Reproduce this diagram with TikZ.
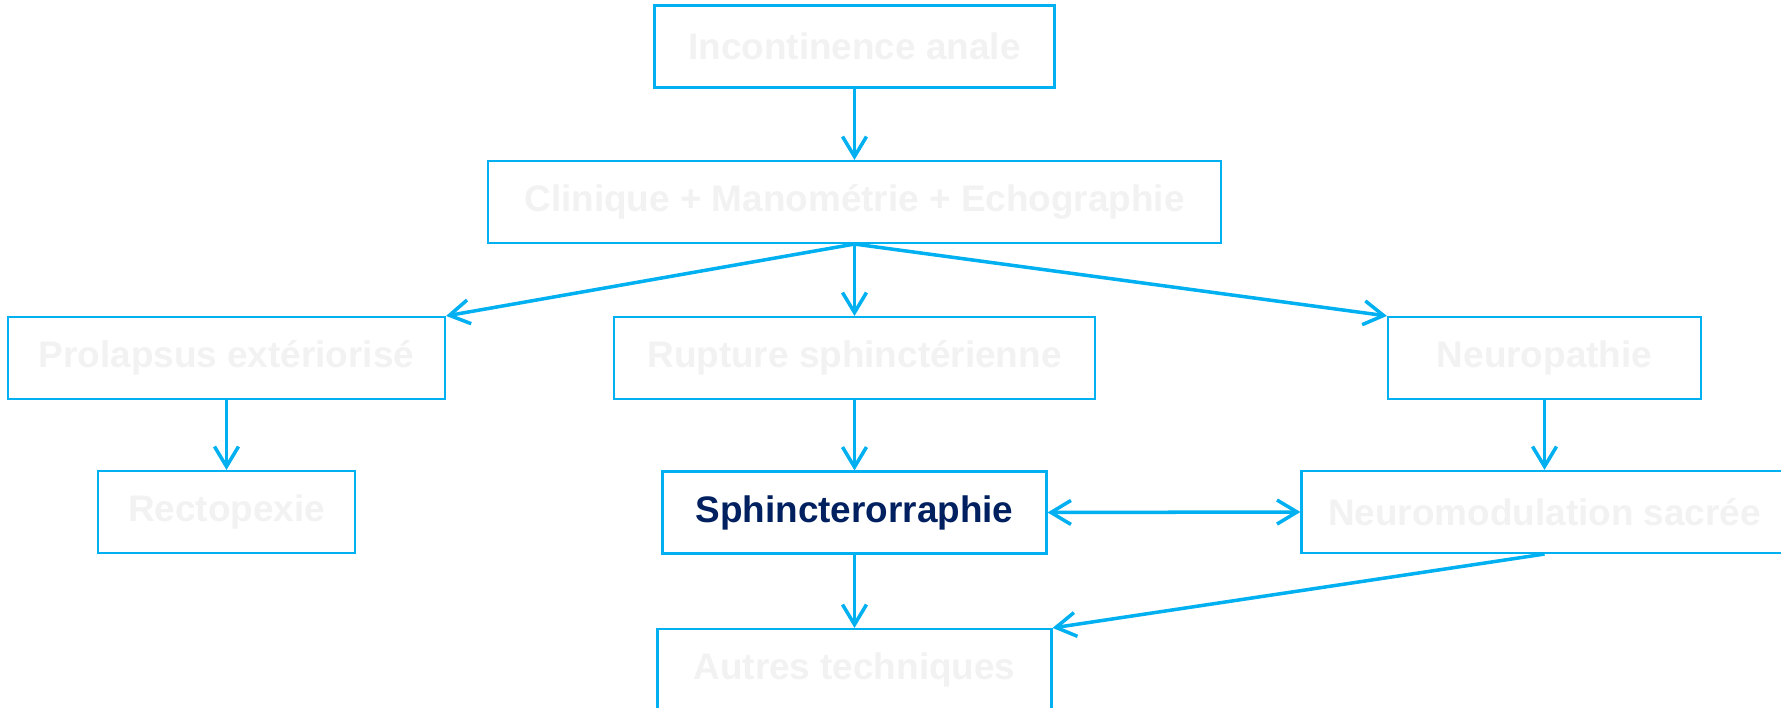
\documentclass[tikz,border=0pt]{standalone}
\usepackage{fontspec}
\setmainfont{Liberation Sans}
\usepackage{xcolor}
\usetikzlibrary{arrows.meta,positioning}
\definecolor{flowcyan}{RGB}{0,176,240}
\definecolor{flowtext}{RGB}{242,242,242}
\definecolor{flownavy}{RGB}{0,32,96}

\begin{document}
\begin{tikzpicture}[
box/.style={
draw=flowcyan,
line width=0.6pt,
fill=white,
inner sep=0pt,
minimum height=0.82cm,
align=center,
text=flowtext,
font=\fontsize{10.5}{12}\selectfont\bfseries
},
arrow/.style={
-{Straight Barb[length=2mm,width=2.4mm]},
line width=1pt,
draw=flowcyan
}
]

\useasboundingbox (0,0) rectangle (17.81,-7.08);

\node[box, minimum width=4.00cm] (inc) at (8.545,-0.465)
{Incontinence anale};

\node[box, minimum width=7.33cm] (clin) at (8.545,-2.02)
{Clinique + Manométrie + Echographie};

\node[box, minimum width=4.37cm] (prol) at (2.265,-3.58)
{Prolapsus extériorisé};

\node[box, minimum width=4.81cm] (rupt) at (8.545,-3.58)
{Rupture sphinctérienne};

\node[box, minimum width=3.13cm] (neuro) at (15.445,-3.58)
{Neuropathie};

\node[box, minimum width=2.57cm] (recto) at (2.265,-5.12)
{Rectopexie};

\node[box, minimum width=3.84cm, text=flownavy] (sphinc) at (8.545,-5.125)
{Sphincterorraphie};

\node[box, minimum width=4.86cm] (neuromod) at (15.445,-5.12)
{Neuromodulation sacrée};

\node[box, minimum width=3.94cm] (autres) at (8.545,-6.70)
{Autres techniques};

\draw[arrow] (inc.south) -- (clin.north);

\draw[arrow] (clin.south) -- (prol.north east);
\draw[arrow] (clin.south) -- (rupt.north);
\draw[arrow] (clin.south) -- (neuro.north west);

\draw[arrow] (prol.south) -- (recto.north);
\draw[arrow] (rupt.south) -- (sphinc.north);
\draw[arrow] (neuro.south) -- (neuromod.north);

\draw[arrow, {Straight Barb[length=2mm,width=2.4mm]}-{Straight Barb[length=2mm,width=2.4mm]}] (sphinc.east) -- (neuromod.west);

\draw[arrow] (sphinc.south) -- (autres.north);
\draw[arrow] (neuromod.south) -- (autres.north east);

\end{tikzpicture}
\end{document}
